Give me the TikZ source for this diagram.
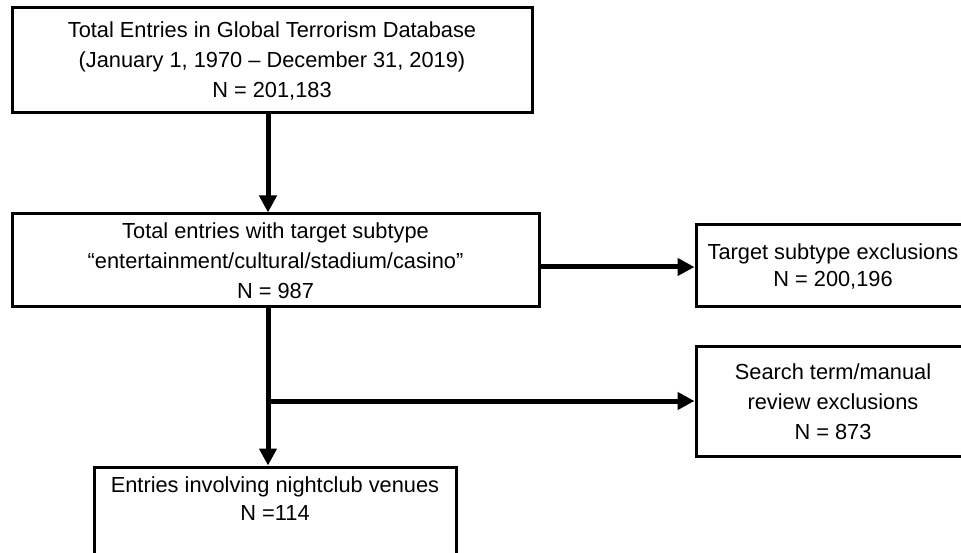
\documentclass[tikz,border=0pt]{standalone}
\usepackage{fontspec}
\setmainfont{Liberation Sans}
\usetikzlibrary{arrows.meta}
\begin{document}
\begin{tikzpicture}[x=1pt,y=1pt,
  box/.style={draw=black, line width=3pt, rectangle, align=center, inner sep=0pt,
    font=\fontsize{21.8}{30}\selectfont},
  arr/.style={line width=5pt, -{Triangle[length=17pt,width=17pt]}}]
\useasboundingbox (0,0) rectangle (961,552);
\clip (0,0) rectangle (961,552);
\fill[white] (0,0) rectangle (961,552);
\node[box, minimum width=520pt, minimum height=105pt] (b1) at (272,491.5)
  {Total Entries in Global Terrorism Database\\(January 1, 1970 – December 31, 2019)\\N = 201,183};
\node[box, minimum width=527pt, minimum height=93pt] (b2) at (275.5,291.5)
  {Total entries with target subtype\\“entertainment/cultural/stadium/casino”\\N = 987};
\node[box, minimum width=274pt, minimum height=82pt, font=\fontsize{21.8}{27}\selectfont] (b3) at (833,286)
  {Target subtype exclusions\\N = 200,196};
\node[box, minimum width=274pt, minimum height=109pt] (b4) at (833,150.5)
  {Search term/manual\\review exclusions\\N = 873};
\node[box, minimum width=362pt, minimum height=100pt, font=\fontsize{21.8}{28}\selectfont] (b5) at (275,35)
  {Entries involving nightclub venues\\N =114\\\strut};
\coordinate (vx) at (268,0);
\coordinate (hy) at (0,285);
\coordinate (br) at (268,151);
\draw[arr] (b1.south -| vx) -- (b2.north -| vx);
\draw[arr] (b2.east |- hy) -- (b3.west |- hy);
\draw[arr] (b2.south -| vx) -- (b5.north -| vx);
\draw[arr] (br) -- (b4.west |- br);
\end{tikzpicture}
\end{document}
